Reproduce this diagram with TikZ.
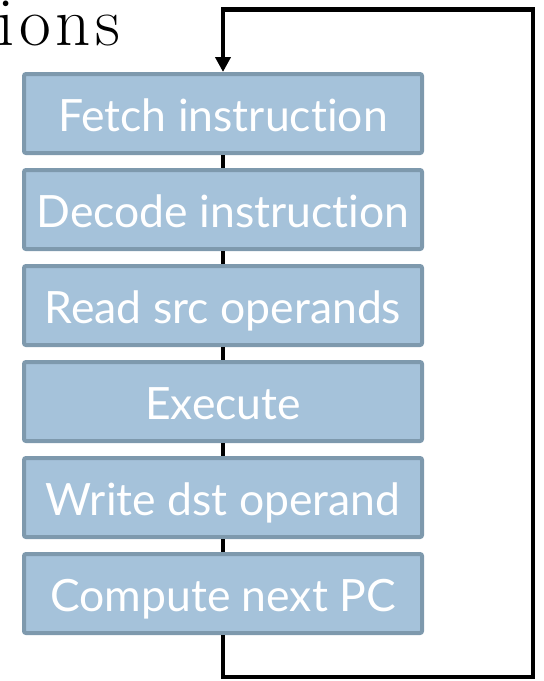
\documentclass[tikz,border=0pt]{standalone}
\usepackage{fontspec}
\newfontfamily\boxfont[Ligatures=NoCommon]{Lato}
\newfontfamily\titlefont[LetterSpace=7]{Latin Modern Roman}
\usetikzlibrary{arrows.meta}
\definecolor{stagefill}{RGB}{165,194,218}
\definecolor{stageedge}{RGB}{126,153,173}
\tikzset{
  stagebox/.style={draw=stageedge, fill=stagefill, line width=4pt,
    rounded corners=2pt, minimum width=398pt, minimum height=79pt,
    inner sep=0pt, text=white, text height=36pt, text depth=0pt,
    font=\boxfont\fontsize{44.5}{50}\selectfont},
  flow/.style={line width=4.5pt, black},
}
\begin{document}
\begin{tikzpicture}[x=1pt,y=-1pt]
  \useasboundingbox (0,0) rectangle (544,681);
  % tail of the slide title
  \node[anchor=base west, inner sep=0pt, font=\titlefont\fontsize{69}{72}\selectfont] (title) at (-3,45) {ions};
  % pipeline stages
  \node[stagebox] (fetch)   at (223,113.5) {Fetch instruction};
  \node[stagebox] (decode)  at (223,209.5) {Decode instruction};
  \node[stagebox] (read)    at (223,305.5) {Read src operands};
  \node[stagebox] (exec)    at (223,401.5) {Execute};
  \node[stagebox] (write)   at (223,497.5) {Write dst operand};
  \node[stagebox] (nextpc)  at (223,593.5) {Compute next PC};
  % links between consecutive stages
  \draw[flow] (fetch.south) -- (decode.north);
  \draw[flow] (decode.south) -- (read.north);
  \draw[flow] (read.south) -- (exec.north);
  \draw[flow] (exec.south) -- (write.north);
  \draw[flow] (write.south) -- (nextpc.north);
  % loop back to the first stage
  \coordinate (bl) at (223,677);
  \coordinate (br) at (533,677);
  \coordinate (tr) at (533,9.5);
  \coordinate (tl) at (223,9.5);
  \draw[flow, -{Triangle[width=15pt,length=15pt]}] (nextpc.south) -- (bl) -- (br) -- (tr) -- (tl) -- (fetch.north);
\end{tikzpicture}
\end{document}
